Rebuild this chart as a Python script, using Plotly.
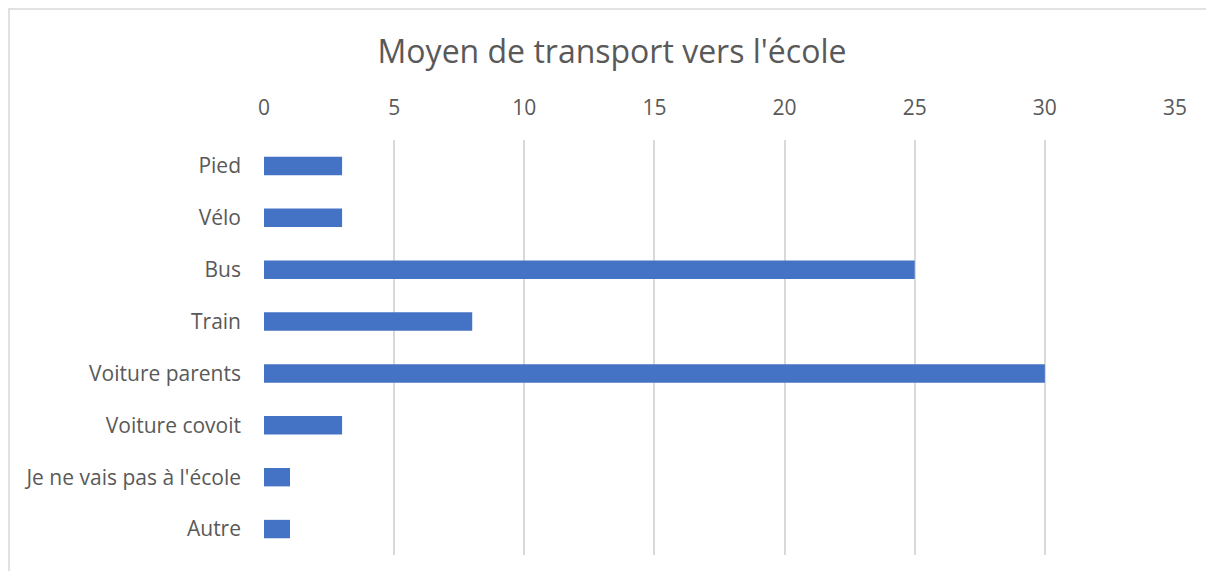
import plotly.graph_objects as go

categories = ["Pied", "Vélo", "Bus", "Train", "Voiture parents", "Voiture covoit",
              "Je ne vais pas à l'école", "Autre"]
values = [3, 3, 25, 8, 30, 3, 1, 1]
x_ticks = [0, 5, 10, 15, 20, 25, 30, 35]
title_text = "Moyen de transport vers l'école"

# page body has an 8px margin, so the figure starts at (8, 8)
W, H = 1198, 563
L, R, T, B = 256, 31, 132, 16
PW, PH = W - L - R, H - T - B

fig = go.Figure(go.Bar(
    x=values, y=categories, orientation="h",
    marker=dict(color="#4472C4", line=dict(width=0)),
))

font_family = "Open Sans, Liberation Sans, sans-serif"
fig.update_layout(
    width=W, height=H,
    margin=dict(l=L, r=R, t=T, b=B),
    paper_bgcolor="white", plot_bgcolor="white",
    bargap=0.645,
    showlegend=False,
    title=dict(text=title_text, x=(612 - 8) / W, xref="container", xanchor="center",
               y=1 - 44 / H, yanchor="middle",
               font=dict(family=font_family, size=32, color="#595959")),
    font=dict(family=font_family, color="#595959"),
    shapes=[
        dict(type="line", xref="paper", yref="paper",
             x0=-L / PW, x1=(W - L) / PW,
             y0=1 + (T - 1) / PH, y1=1 + (T - 1) / PH,
             line=dict(color="#D9D9D9", width=1.5)),
        dict(type="line", xref="paper", yref="paper",
             x0=(1 - L) / PW, x1=(1 - L) / PW,
             y0=1 + (T - 1) / PH, y1=-B / PH,
             line=dict(color="#D9D9D9", width=1.5)),
    ],
)
fig.update_xaxes(
    side="top", range=[0, 35], tickvals=x_ticks,
    showgrid=True, gridcolor="#D9D9D9", gridwidth=1.5,
    zeroline=False, showline=False, ticks="",
    tickfont=dict(size=21, color="#595959"),
    ticklabelstandoff=20,
)
fig.update_yaxes(
    autorange="reversed", showgrid=False, zeroline=False, showline=False, ticks="",
    tickfont=dict(size=21, color="#595959"),
    ticklabelstandoff=22,
)

fig.write_html("out.html")
